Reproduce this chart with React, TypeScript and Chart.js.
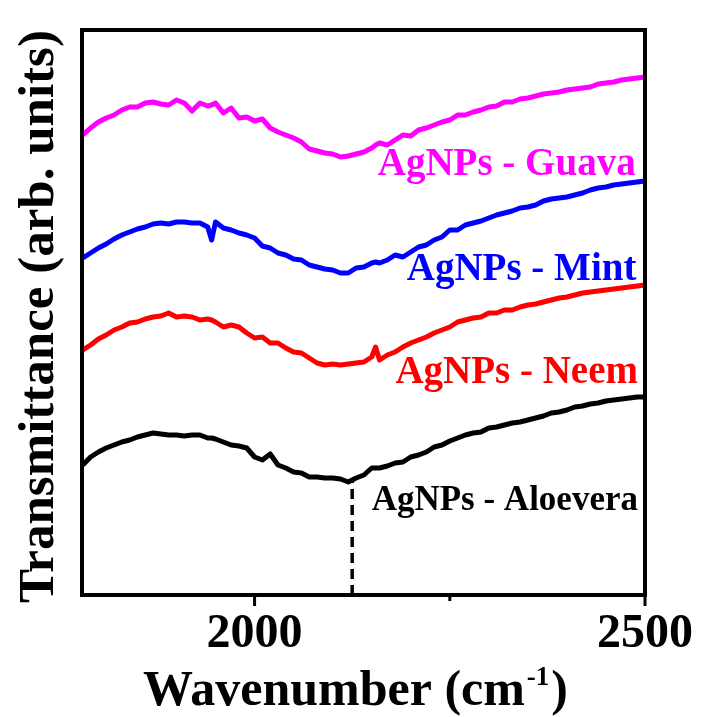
import React, { useEffect, useRef } from 'react';
import { Chart, registerables } from 'chart.js';
Chart.register(...registerables);

// Wavenumber sampling (cm^-1)
const wavenumbers = [
  1780, 1790, 1800, 1810, 1820, 1830, 1840, 1850, 1860, 1870, 1880, 1890, 1900, 1910, 1920, 1930, 1940, 1945,
  1950, 1960, 1970, 1980, 1990, 2000, 2010, 2020, 2030, 2040, 2050, 2060, 2070, 2080, 2090, 2100, 2110, 2120,
  2130, 2140, 2150, 2155, 2160, 2170, 2180, 2190, 2200, 2210, 2220, 2230, 2240, 2250, 2260, 2270, 2280, 2290,
  2300, 2310, 2320, 2330, 2340, 2350, 2360, 2370, 2380, 2390, 2400, 2410, 2420, 2430, 2440, 2450, 2460, 2470,
  2480, 2490, 2500,
];

// Transmittance (arb. units, stacked with offsets)
const guava = [
  460, 467, 473, 477, 480, 485, 488, 488, 492, 493, 491, 490, 495, 492, 484, 492, 489, 490,
  492, 482, 487, 477, 478, 474, 476, 467, 463, 460, 457, 453, 446, 444, 442, 441, 438, 439,
  441, 443, 447, 450, 452, 450, 455, 460, 459, 465, 467, 470, 473, 475, 480, 480, 483, 485,
  488, 489, 493, 493, 496, 497, 499, 501, 502, 503, 505, 506, 507, 508, 511, 512, 513, 515,
  516, 517, 518,
];
const mint = [
  337, 342, 347, 351, 356, 360, 363, 366, 368, 371, 372, 371, 373, 373, 372, 372, 368, 355,
  373, 367, 365, 362, 360, 357, 349, 347, 342, 340, 336, 335, 330, 328, 326, 325, 322, 322,
  327, 328, 332, 333, 332, 335, 340, 338, 343, 348, 350, 355, 358, 365, 365, 370, 372, 374,
  377, 380, 382, 384, 387, 388, 390, 394, 396, 397, 398, 400, 402, 405, 407, 408, 410, 411,
  412, 413, 414,
];
const neem = [
  245, 250, 256, 260, 265, 268, 272, 273, 276, 278, 279, 282, 278, 279, 278, 275, 276, 275,
  273, 268, 270, 268, 262, 257, 258, 252, 252, 247, 243, 242, 237, 232, 230, 231, 230, 231,
  232, 233, 238, 248, 235, 240, 243, 248, 252, 255, 258, 262, 265, 268, 273, 275, 277, 278,
  282, 282, 285, 285, 288, 290, 291, 293, 295, 297, 298, 300, 302, 303, 304, 305, 306, 307,
  308, 309, 310,
];
const aloevera = [
  130, 138, 143, 147, 150, 153, 155, 158, 160, 162, 161, 160, 160, 159, 160, 160, 157, 157,
  156, 153, 150, 149, 147, 138, 135, 141, 130, 127, 123, 122, 118, 118, 117, 117, 116, 113,
  117, 120, 127, 127, 127, 129, 132, 133, 138, 140, 143, 148, 150, 154, 157, 160, 162, 163,
  167, 168, 170, 172, 173, 175, 177, 179, 182, 183, 185, 188, 189, 191, 192, 194, 195, 196,
  197, 198, 198,
];

const seriesNames = ['AgNPs - Guava', 'AgNPs - Mint', 'AgNPs - Neem', 'AgNPs - Aloevera'];
const seriesColors = ['#ff00ff', '#0000ff', '#ff0000', '#000000'];
const seriesValues = [guava, mint, neem, aloevera];

// Marked band (dashed line) for Aloevera
const markerWavenumber = 2125;
const markerRange = [0, 114];

// Label anchors (data units: right edge x, baseline y)
const labelX = [2488, 2489, 2491, 2491];
const labelY = [420, 315, 212, 85];
const labelSizes = [39, 39, 39, 35];

const xTicks = [2000, 2250, 2500];
const xMajor = [2000, 2500];
const xMin = 1779;
const xMax = 2500;

const FONT = '"Liberation Serif", "Times New Roman", serif';

const decorPlugin = {
  id: 'decor',
  afterDatasetsDraw(chart: any) {
    const { ctx, chartArea, scales } = chart;
    const xs = scales.x;
    const ys = scales.y;
    ctx.save();
    // frame
    ctx.strokeStyle = '#000';
    ctx.lineWidth = 4;
    ctx.strokeRect(chartArea.left, chartArea.top, chartArea.right - chartArea.left, chartArea.bottom - chartArea.top);
    // ticks
    ctx.lineWidth = 3;
    xTicks.forEach((v) => {
      const px = xs.getPixelForValue(v);
      const len = xMajor.includes(v) ? 11 : 6;
      ctx.beginPath();
      ctx.moveTo(px, chartArea.bottom);
      ctx.lineTo(px, chartArea.bottom + len);
      ctx.stroke();
    });
    // series labels
    ctx.textAlign = 'right';
    ctx.textBaseline = 'alphabetic';
    seriesNames.forEach((name, i) => {
      ctx.font = `bold ${labelSizes[i]}px ${FONT}`;
      ctx.fillStyle = seriesColors[i];
      ctx.fillText(name, xs.getPixelForValue(labelX[i]), ys.getPixelForValue(labelY[i]));
    });
    // x title with superscript
    ctx.fillStyle = '#000';
    ctx.textAlign = 'left';
    const main = 'Wavenumber (cm';
    const sup = '-1';
    const close = ')';
    ctx.font = `bold 50px ${FONT}`;
    const wMain = ctx.measureText(main).width;
    const wClose = ctx.measureText(close).width;
    ctx.font = `bold 27px ${FONT}`;
    const wSup = ctx.measureText(sup).width;
    const total = wMain + wSup + 4 + wClose;
    const cx = (chartArea.left + chartArea.right) / 2 - 8;
    const x0 = cx - total / 2;
    const base = 705;
    ctx.font = `bold 50px ${FONT}`;
    ctx.fillText(main, x0, base);
    ctx.font = `bold 27px ${FONT}`;
    ctx.fillText(sup, x0 + wMain + 2, base - 20);
    ctx.font = `bold 50px ${FONT}`;
    ctx.fillText(close, x0 + wMain + wSup + 4, base);
    // y title
    ctx.translate(53, (chartArea.top + chartArea.bottom) / 2 + 4);
    ctx.rotate(-Math.PI / 2);
    ctx.textAlign = 'center';
    ctx.font = `bold 51px ${FONT}`;
    ctx.fillText('Transmittance (arb. units)', 0, 0);
    ctx.restore();
  },
};

export default function App() {
  const ref = useRef<HTMLCanvasElement>(null);
  useEffect(() => {
    if (!ref.current) return;
    const datasets: any[] = seriesNames.map((name, i) => ({
      label: name,
      data: wavenumbers.map((w, j) => ({ x: w, y: seriesValues[i][j] })),
      borderColor: seriesColors[i],
      borderWidth: 5,
      borderJoinStyle: 'round',
      pointRadius: 0,
      tension: 0,
      fill: false,
    }));
    datasets.push({
      label: 'marker',
      data: markerRange.map((v) => ({ x: markerWavenumber, y: v })),
      borderColor: '#000',
      borderWidth: 3.5,
      borderDash: [10, 6],
      pointRadius: 0,
      fill: false,
    });
    const chart = new Chart(ref.current, {
      type: 'line',
      data: { datasets },
      options: {
        animation: false,
        responsive: false,
        layout: { padding: { left: 82, right: 57, top: 30, bottom: 0 } },
        plugins: { legend: { display: false }, tooltip: { enabled: false } },
        scales: {
          x: {
            type: 'linear',
            min: xMin,
            max: xMax,
            grid: { display: false, drawTicks: false },
            border: { display: false },
            afterBuildTicks: (s: any) => {
              s.ticks = xTicks.map((v) => ({ value: v }));
            },
            afterFit: (s: any) => {
              s.height = 122;
            },
            ticks: {
              autoSkip: false,
              maxRotation: 0,
              padding: 11,
              color: '#000',
              font: { family: FONT, size: 48, weight: 'bold' },
              callback: (v: any) => (xMajor.includes(v) ? String(v) : ''),
            },
          },
          y: { type: 'linear', display: false, min: 0, max: 565 },
        },
      },
      plugins: [decorPlugin],
    });
    return () => chart.destroy();
  }, []);
  return (
    <div style={{ position: 'fixed', left: 0, top: 0, width: 704, height: 717, background: '#fff' }}>
      <canvas ref={ref} width={704} height={717} />
    </div>
  );
}
